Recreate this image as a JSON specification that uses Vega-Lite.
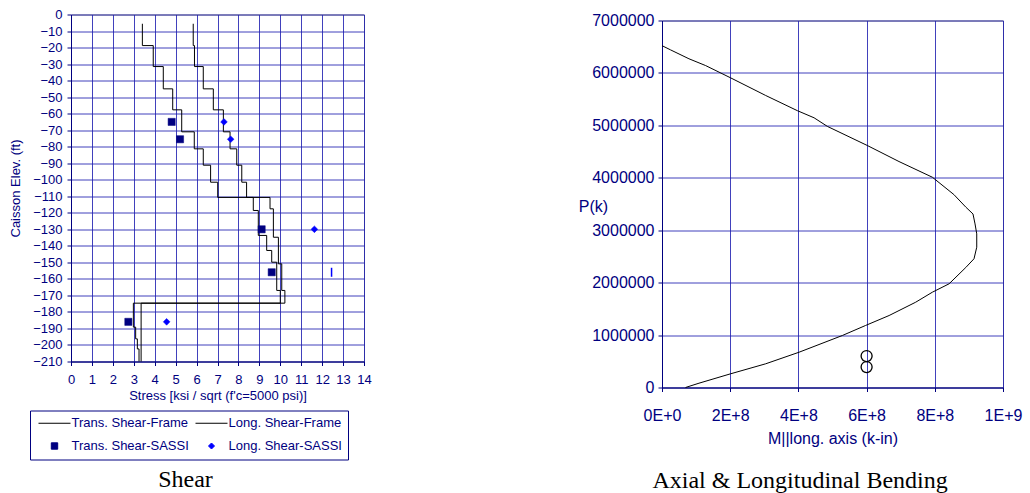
{
  "$schema": "https://vega.github.io/schema/vega-lite/v6.json",
  "autosize": {"type": "pad"},
  "padding": {"left": 9, "top": 7.5, "right": 0, "bottom": 0},
  "background": "white",
  "spacing": 205,
  "config": {
    "font": "Liberation Sans",
    "view": {"stroke": "#808080", "strokeWidth": 1},
    "axis": {
      "labelFont": "Liberation Sans", "titleFont": "Liberation Sans",
      "labelColor": "#000080", "titleColor": "#000080",
      "domainColor": "#000080", "tickColor": "#000080",
      "gridColor": "#2020b0", "gridOpacity": 0.85, "gridWidth": 1,
      "titleFontWeight": "normal", "tickSize": 4, "tickCount": 40,
      "labelFlush": false, "labelOverlap": false, "labelBound": false
    },
    "legend": {
      "orient": "none", "legendX": -41, "legendY": 396, "columns": 2, "direction": "horizontal",
      "strokeColor": "#000080", "padding": 6,
      "symbolSize": 64, "symbolStrokeWidth": 1, "symbolOffset": 12,
      "labelOffset": 10.5, "labelFontSize": 13, "labelColor": "#000080",
      "labelFont": "Liberation Sans", "columnPadding": 4, "rowPadding": 9
    }
  },
  "hconcat": [
    {
      "width": 293,
      "height": 347,
      "title": {"text": "Shear", "orient": "bottom", "frame": "bounds", "anchor": "middle", "font": "Liberation Serif", "fontSize": 24, "fontWeight": "normal", "color": "black", "offset": 65, "dx": -5},
      "layer": [
        {
          "data": {"values": [
            {"s": "Trans. Shear-Frame", "i": 0, "x": 3.41, "y": -5.6},
            {"s": "Trans. Shear-Frame", "i": 1, "x": 3.93, "y": -18.8},
            {"s": "Trans. Shear-Frame", "i": 2, "x": 4.41, "y": -31.5},
            {"s": "Trans. Shear-Frame", "i": 3, "x": 4.86, "y": -45},
            {"s": "Trans. Shear-Frame", "i": 4, "x": 5.29, "y": -57.7},
            {"s": "Trans. Shear-Frame", "i": 5, "x": 5.89, "y": -71},
            {"s": "Trans. Shear-Frame", "i": 6, "x": 6.32, "y": -81.3},
            {"s": "Trans. Shear-Frame", "i": 7, "x": 6.67, "y": -91.2},
            {"s": "Trans. Shear-Frame", "i": 8, "x": 7.01, "y": -101.5},
            {"s": "Trans. Shear-Frame", "i": 9, "x": 9.51, "y": -110.7},
            {"s": "Trans. Shear-Frame", "i": 10, "x": 9.67, "y": -117.6},
            {"s": "Trans. Shear-Frame", "i": 11, "x": 9.91, "y": -134.8},
            {"s": "Trans. Shear-Frame", "i": 12, "x": 10.07, "y": -150.9},
            {"s": "Trans. Shear-Frame", "i": 13, "x": 10.22, "y": -167},
            {"s": "Trans. Shear-Frame", "i": 14, "x": 3.35, "y": -174.7},
            {"s": "Trans. Shear-Frame", "i": 15, "x": 3.35, "y": -210},
            {"s": "Long. Shear-Frame", "i": 0, "x": 5.84, "y": -5.6},
            {"s": "Long. Shear-Frame", "i": 1, "x": 5.9, "y": -18.8},
            {"s": "Long. Shear-Frame", "i": 2, "x": 6.32, "y": -31.5},
            {"s": "Long. Shear-Frame", "i": 3, "x": 6.8, "y": -45},
            {"s": "Long. Shear-Frame", "i": 4, "x": 7.28, "y": -57.7},
            {"s": "Long. Shear-Frame", "i": 5, "x": 7.6, "y": -71},
            {"s": "Long. Shear-Frame", "i": 6, "x": 7.92, "y": -81.3},
            {"s": "Long. Shear-Frame", "i": 7, "x": 8.16, "y": -91.2},
            {"s": "Long. Shear-Frame", "i": 8, "x": 8.39, "y": -101.5},
            {"s": "Long. Shear-Frame", "i": 9, "x": 8.71, "y": -110.7},
            {"s": "Long. Shear-Frame", "i": 10, "x": 8.95, "y": -118.6},
            {"s": "Long. Shear-Frame", "i": 11, "x": 9.35, "y": -133.7},
            {"s": "Long. Shear-Frame", "i": 12, "x": 9.59, "y": -142.8},
            {"s": "Long. Shear-Frame", "i": 13, "x": 9.83, "y": -149.9},
            {"s": "Long. Shear-Frame", "i": 14, "x": 10.0, "y": -167},
            {"s": "Long. Shear-Frame", "i": 15, "x": 2.98, "y": -174.7},
            {"s": "Long. Shear-Frame", "i": 16, "x": 3.09, "y": -189.2},
            {"s": "Long. Shear-Frame", "i": 17, "x": 3.17, "y": -196.3},
            {"s": "Long. Shear-Frame", "i": 18, "x": 3.25, "y": -202.4},
            {"s": "Long. Shear-Frame", "i": 19, "x": 3.25, "y": -210}
          ]},
          "mark": {"type": "line", "interpolate": "step-before", "strokeWidth": 1},
          "encoding": {
            "x": {"field": "x", "type": "quantitative",
                  "scale": {"domain": [0, 14], "nice": false, "zero": false},
                  "axis": {"title": "Stress [ksi / sqrt (f'c=5000 psi)]", "values": [0,1,2,3,4,5,6,7,8,9,10,11,12,13,14], "tickCount": 40, "format": "d",
                           "labelFontSize": 13, "titleFontSize": 13, "labelPadding": 8, "titlePadding": 3}},
            "y": {"field": "y", "type": "quantitative",
                  "scale": {"domain": [-210, 0], "nice": false, "zero": false},
                  "axis": {"title": "Caisson Elev. (ft)", "values": [-210,-200,-190,-180,-170,-160,-150,-140,-130,-120,-110,-100,-90,-80,-70,-60,-50,-40,-30,-20,-10,0], "tickCount": 40, "format": "d",
                           "labelFontSize": 13, "titleFontSize": 13, "labelPadding": 5, "titlePadding": 10}},
            "stroke": {"field": "s", "type": "nominal",
                       "scale": {"domain": ["Trans. Shear-Frame", "Long. Shear-Frame", "Trans. Shear-SASSI", "Long. Shear-SASSI"],
                                 "range": ["#000000", "#000000", "#000080", "#0000ff"]},
                       "legend": {"title": null}},
            "order": {"field": "i", "type": "quantitative"}
          }
        },
        {
          "data": {"values": [
            {"s": "Trans. Shear-SASSI", "x": 4.81, "y": -65},
            {"s": "Trans. Shear-SASSI", "x": 5.21, "y": -75.5},
            {"s": "Trans. Shear-SASSI", "x": 9.11, "y": -130},
            {"s": "Trans. Shear-SASSI", "x": 9.59, "y": -156},
            {"s": "Trans. Shear-SASSI", "x": 2.74, "y": -186},
            {"s": "Long. Shear-SASSI", "x": 7.31, "y": -65},
            {"s": "Long. Shear-SASSI", "x": 7.63, "y": -75.5},
            {"s": "Long. Shear-SASSI", "x": 11.63, "y": -130},
            {"s": "Long. Shear-SASSI", "x": 4.57, "y": -186}
          ]},
          "mark": {"type": "point", "filled": true, "size": 80, "strokeWidth": 0.5, "opacity": 1},
          "encoding": {
            "x": {"field": "x", "type": "quantitative"},
            "y": {"field": "y", "type": "quantitative"},
            "fill": {"field": "s", "type": "nominal",
                     "scale": {"domain": ["Trans. Shear-Frame", "Long. Shear-Frame", "Trans. Shear-SASSI", "Long. Shear-SASSI"],
                               "range": ["#000000", "#000000", "#000080", "#0000ff"]},
                     "legend": {"title": null}},
            "stroke": {"field": "s", "type": "nominal",
                       "scale": {"domain": ["Trans. Shear-Frame", "Long. Shear-Frame", "Trans. Shear-SASSI", "Long. Shear-SASSI"],
                                 "range": ["#000000", "#000000", "#000080", "#0000ff"]},
                       "legend": {"title": null}},
            "shape": {"field": "s", "type": "nominal",
                      "scale": {"domain": ["Trans. Shear-Frame", "Long. Shear-Frame", "Trans. Shear-SASSI", "Long. Shear-SASSI"],
                                "range": ["M-4,0L4,0", "M-4,0L4,0", "M-0.8,-0.8L0.8,-0.8L0.8,0.8L-0.8,0.8Z", "M0,-0.75L0.75,0L0,0.75L-0.75,0Z"]},
                      "legend": {"title": null}}
          }
        },
        {
          "data": {"values": [{"x": 12.45, "y": -156}]},
          "mark": {"type": "point", "shape": "M0,-1L0,1", "size": 81, "filled": false, "color": "#0000ff", "strokeWidth": 1.5, "opacity": 1},
          "encoding": {
            "x": {"field": "x", "type": "quantitative"},
            "y": {"field": "y", "type": "quantitative"}
          }
        }
      ]
    },
    {
      "vconcat": [
        {
          "width": 10,
          "height": 6,
          "view": {"stroke": null},
          "data": {"values": [{"k": 1}]},
          "mark": {"type": "point", "opacity": 0},
          "encoding": {}
        },
        {
          "width": 341,
          "height": 367,
          "title": {"text": "Axial & Longitudinal Bending", "orient": "bottom", "frame": "bounds", "anchor": "middle", "font": "Liberation Serif", "fontSize": 24, "fontWeight": "normal", "color": "black", "offset": 22},
          "layer": [
            {
              "data": {"values": [
                {"i": 0, "M": 0, "P": 6520000},
                {"i": 1, "M": 25000000, "P": 6440000},
                {"i": 2, "M": 79000000, "P": 6270000},
                {"i": 3, "M": 128000000, "P": 6140000},
                {"i": 4, "M": 201000000, "P": 5907000},
                {"i": 5, "M": 304000000, "P": 5570000},
                {"i": 6, "M": 397000000, "P": 5280000},
                {"i": 7, "M": 446000000, "P": 5144000},
                {"i": 8, "M": 485000000, "P": 4980000},
                {"i": 9, "M": 602000000, "P": 4616000},
                {"i": 10, "M": 695000000, "P": 4310000},
                {"i": 11, "M": 793000000, "P": 4010000},
                {"i": 12, "M": 856000000, "P": 3680000},
                {"i": 13, "M": 891000000, "P": 3440000},
                {"i": 14, "M": 912000000, "P": 3310000},
                {"i": 15, "M": 918000000, "P": 3120000},
                {"i": 16, "M": 923000000, "P": 2930000},
                {"i": 17, "M": 923000000, "P": 2676000},
                {"i": 18, "M": 915000000, "P": 2455000},
                {"i": 19, "M": 891000000, "P": 2290000},
                {"i": 20, "M": 842000000, "P": 1978000},
                {"i": 21, "M": 793000000, "P": 1818000},
                {"i": 22, "M": 744000000, "P": 1627000},
                {"i": 23, "M": 666000000, "P": 1373000},
                {"i": 24, "M": 597000000, "P": 1183000},
                {"i": 25, "M": 529000000, "P": 992000},
                {"i": 26, "M": 402000000, "P": 673000},
                {"i": 27, "M": 304000000, "P": 452000},
                {"i": 28, "M": 201000000, "P": 261000},
                {"i": 29, "M": 108500000, "P": 82000},
                {"i": 30, "M": 69000000, "P": 0}
              ]},
              "mark": {"type": "line", "color": "black", "strokeWidth": 1},
              "encoding": {
                "x": {"field": "M", "type": "quantitative",
                      "scale": {"domain": [0, 1000000000], "nice": false, "zero": false},
                      "axis": {"title": "M||long. axis (k-in)", "values": [0, 200000000, 400000000, 600000000, 800000000, 1000000000],
                               "labelExpr": "upper(format(datum.value, '.0e'))",
                               "labelFontSize": 16, "titleFontSize": 16, "labelPadding": 16, "titlePadding": 7}},
                "y": {"field": "P", "type": "quantitative",
                      "scale": {"domain": [0, 7000000], "nice": false, "zero": false},
                      "axis": {"title": "P(k)", "values": [0, 1000000, 2000000, 3000000, 4000000, 5000000, 6000000, 7000000],
                               "format": "d", "labelFontSize": 16, "titleFontSize": 16, "labelPadding": 4,
                               "titleAngle": 0, "titleX": -69, "titleY": 185.5, "titleAlign": "center", "titleBaseline": "middle"}},
                "order": {"field": "i", "type": "quantitative"}
              }
            },
            {
              "data": {"values": [
                {"M": 600000000, "P": 600000},
                {"M": 600000000, "P": 390000}
              ]},
              "mark": {"type": "point", "shape": "circle", "size": 121, "filled": false, "color": "black", "strokeWidth": 1.3, "opacity": 1},
              "encoding": {
                "x": {"field": "M", "type": "quantitative"},
                "y": {"field": "P", "type": "quantitative"}
              }
            }
          ]
        }
      ],
      "spacing": 0,
      "bounds": "flush"
    }
  ]
}
